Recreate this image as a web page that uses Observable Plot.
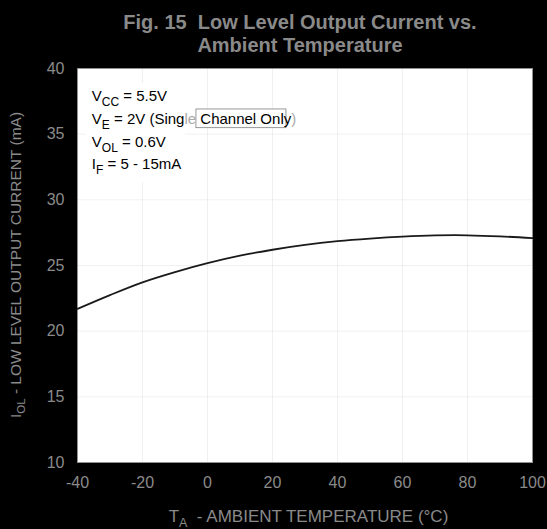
<!DOCTYPE html>
<html>
<head>
<meta charset="utf-8">
<script src="https://cdn.jsdelivr.net/npm/d3@7"></script>
<script src="https://cdn.jsdelivr.net/npm/@observablehq/plot@0.6"></script>
<style>
  html, body { margin: 0; padding: 0; background: #000; }
  #wrap { width: 547px; height: 529px; position: relative; overflow: hidden; }
  #title { height: 58px; color: #8a8a8a; font-family: "Liberation Sans", Arial, sans-serif;
    font-weight: bold; font-size: 20px; text-align: center; line-height: 23px; padding-top: 11px;
    box-sizing: border-box; padding-left: 53px; white-space: pre; }
  svg { display: block; }
</style>
</head>
<body>
<div id="wrap">
  <div id="title">Fig. 15  Low Level Output Current vs.
Ambient Temperature</div>
  <div id="chart"></div>
</div>
<script>
const temperature = [-40, -30, -20, -10, 0, 10, 20, 30, 40, 50, 60, 70, 80, 90, 100];
const currentOL   = [21.7, 22.75, 23.72, 24.5, 25.18, 25.75, 26.2, 26.57, 26.85, 27.05, 27.2, 27.29, 27.3, 27.22, 27.08];
const xTicks = [-40, -20, 0, 20, 40, 60, 80, 100];
const yTicks = [10, 15, 20, 25, 30, 35, 40];
const annotationLines = [
  {main: "V", sub: "CC", rest: " = 5.5V"},
  {main: "V", sub: "E", rest: " = 2V (Sing", faint: "le", rest2: " Channel Only", faint2: ")"},
  {main: "V", sub: "OL", rest: " = 0.6V"},
  {main: "I", sub: "F", rest: " = 5 - 15mA"}
];

const data = temperature.map((t, i) => ({t, i: currentOL[i]}));
const textColor = "#8a8a8a";
const fmt = d => String(d);
const font = "'Liberation Sans', Arial, sans-serif";

const plot = Plot.plot({
  width: 547,
  height: 471,
  marginTop: 10,
  marginBottom: 67,
  marginLeft: 77,
  marginRight: 15,
  style: {background: "#000", color: textColor, fontFamily: font, fontSize: "16px"},
  x: {domain: [-40, 100], ticks: xTicks, label: null, tickSize: 0, tickPadding: 14, tickFormat: fmt},
  y: {domain: [10, 40], ticks: yTicks, label: null, tickSize: 0, tickPadding: 13, tickFormat: fmt},
  marks: [
    Plot.frame({fill: "#fff", stroke: "#9a9a9a"}),
    Plot.gridX(xTicks, {stroke: "#000", strokeOpacity: 0.06}),
    Plot.gridY(yTicks, {stroke: "#000", strokeOpacity: 0.06}),
    Plot.line(data, {x: "t", y: "i", stroke: "#1a1a1a", strokeWidth: 1.8, curve: "catmull-rom"}),
    Plot.axisX(xTicks, {tickSize: 0, tickPadding: 14, fill: textColor, fontSize: 16, label: null, tickFormat: fmt}),
    Plot.axisY(yTicks, {tickSize: 0, tickPadding: 13, fill: textColor, fontSize: 16, label: null, tickFormat: fmt})
  ]
});
document.getElementById("chart").appendChild(plot);

const sx = plot.scale("x"), sy = plot.scale("y");
const svg = d3.select(plot);

// Axis titles
const xt = svg.append("text")
  .attr("x", (sx.apply(-40) + sx.apply(100)) / 2 + 4)
  .attr("y", 464)
  .attr("text-anchor", "middle")
  .attr("fill", textColor)
  .attr("font-family", font)
  .attr("font-size", 17)
  .attr("xml:space", "preserve")
  .style("white-space", "pre");
xt.append("tspan").text("T");
xt.append("tspan").attr("font-size", 12.5).attr("dy", 5).text("A");
xt.append("tspan").attr("dy", -5).text("  - AMBIENT TEMPERATURE (°C)");

const yMid = (sy.apply(10) + sy.apply(40)) / 2;
const yt = svg.append("text")
  .attr("transform", `translate(21,${yMid}) rotate(-90)`)
  .attr("text-anchor", "middle")
  .attr("fill", textColor)
  .attr("font-family", font)
  .attr("font-size", 15.5);
yt.append("tspan").text("I");
yt.append("tspan").attr("font-size", 11.5).attr("dy", 4).text("OL");
yt.append("tspan").attr("dy", -4).text(" - LOW LEVEL OUTPUT CURRENT (mA)");

// Annotation box
const g = svg.append("g").attr("text-anchor", "start");
const bx0 = sx.apply(-37.2), bx1 = sx.apply(-6.8);
const by0 = sy.apply(38.86), by1 = sy.apply(31.32);
g.append("rect").attr("x", bx0).attr("y", by0).attr("width", bx1 - bx0).attr("height", by1 - by0).attr("fill", "#fff");
const cx0 = sx.apply(-3.4), cx1 = sx.apply(24.3);
g.append("rect").attr("x", cx0).attr("y", sy.apply(36.88)).attr("width", cx1 - cx0)
  .attr("height", sy.apply(35.45) - sy.apply(36.88)).attr("fill", "#fff").attr("stroke", "#555").attr("stroke-width", 0.6);
annotationLines.forEach((d, k) => {
  const t = g.append("text")
    .attr("x", bx0 + 5.7)
    .attr("y", by0 + 18 + k * 22.8)
    .attr("fill", "#000")
    .attr("font-family", font)
    .attr("font-size", 15);
  t.append("tspan").text(d.main);
  t.append("tspan").attr("font-size", 12).attr("dy", 5).text(d.sub);
  t.append("tspan").attr("dy", -5).text(d.rest);
  if (d.faint) {
    t.append("tspan").attr("fill", "#aaa").text(d.faint);
    t.append("tspan").text(d.rest2);
    t.append("tspan").attr("fill", "#aaa").text(d.faint2);
  }
});
</script>
</body>
</html>
